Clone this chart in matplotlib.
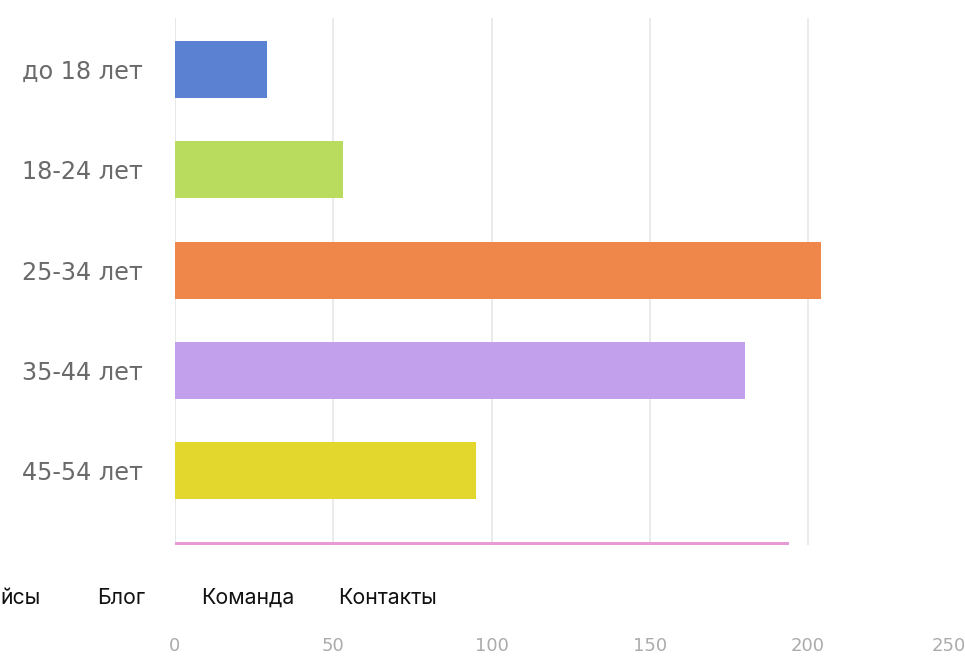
import matplotlib
matplotlib.use("Agg")
import matplotlib.pyplot as plt

categories = ["до 18 лет", "18-24 лет", "25-34 лет", "35-44 лет", "45-54 лет", "55+ лет"]
values = [29, 53, 204, 180, 95, 194]
colors = ["#5b82d2", "#badc5e", "#ef864a", "#c3a0eb", "#e3d62c", "#e69bd6"]
xticks = [0, 50, 100, 150, 200, 250]
menu_items = ["йсы", "Блог", "Команда", "Контакты"]

W, H = 965, 660
fig = plt.figure(figsize=(W / 100, H / 100), dpi=100)
fig.patch.set_facecolor("white")

# axes in pixel coordinates
left_px, right_px = 175, 175 + 250 * 3.165
top_px, bottom_px = 18, 545
ax = fig.add_axes([left_px / W, 1 - bottom_px / H, (right_px - left_px) / W, (bottom_px - top_px) / H])

ypos = list(range(len(categories)))
ax.barh(ypos, values, height=0.57, color=colors, zorder=3)

ax.set_yticks(ypos)
ax.set_yticklabels(categories, fontsize=17.2, color="#6a6a6a", family="DejaVu Sans")
ax.tick_params(axis="y", length=0, pad=23)

ax.set_xticks(xticks)
ax.set_xticklabels([str(t) for t in xticks], fontsize=13, color="#ababab", family="DejaVu Sans")
ax.tick_params(axis="x", length=0, pad=66)
ax.get_xticklabels()[-1].set_horizontalalignment("right")

ax.set_xlim(0, 250)
ax.set_ylim(4.74, -0.513)

ax.grid(axis="x", color="#e8e8e8", linewidth=1.2, zorder=0)
for s in ax.spines.values():
    s.set_visible(False)
ax.axvline(0, color="#e6e6e6", linewidth=1.2, zorder=1)

# overlapping menu bar text
menu_x = [0, 97, 201, 338]
for x, t in zip(menu_x, menu_items):
    fig.text(x / W, 1 - 598 / H, t, fontsize=15.3, family="Inter", color="#111111",
             ha="left", va="center")

fig.savefig("out.png", dpi=100, facecolor="white")
